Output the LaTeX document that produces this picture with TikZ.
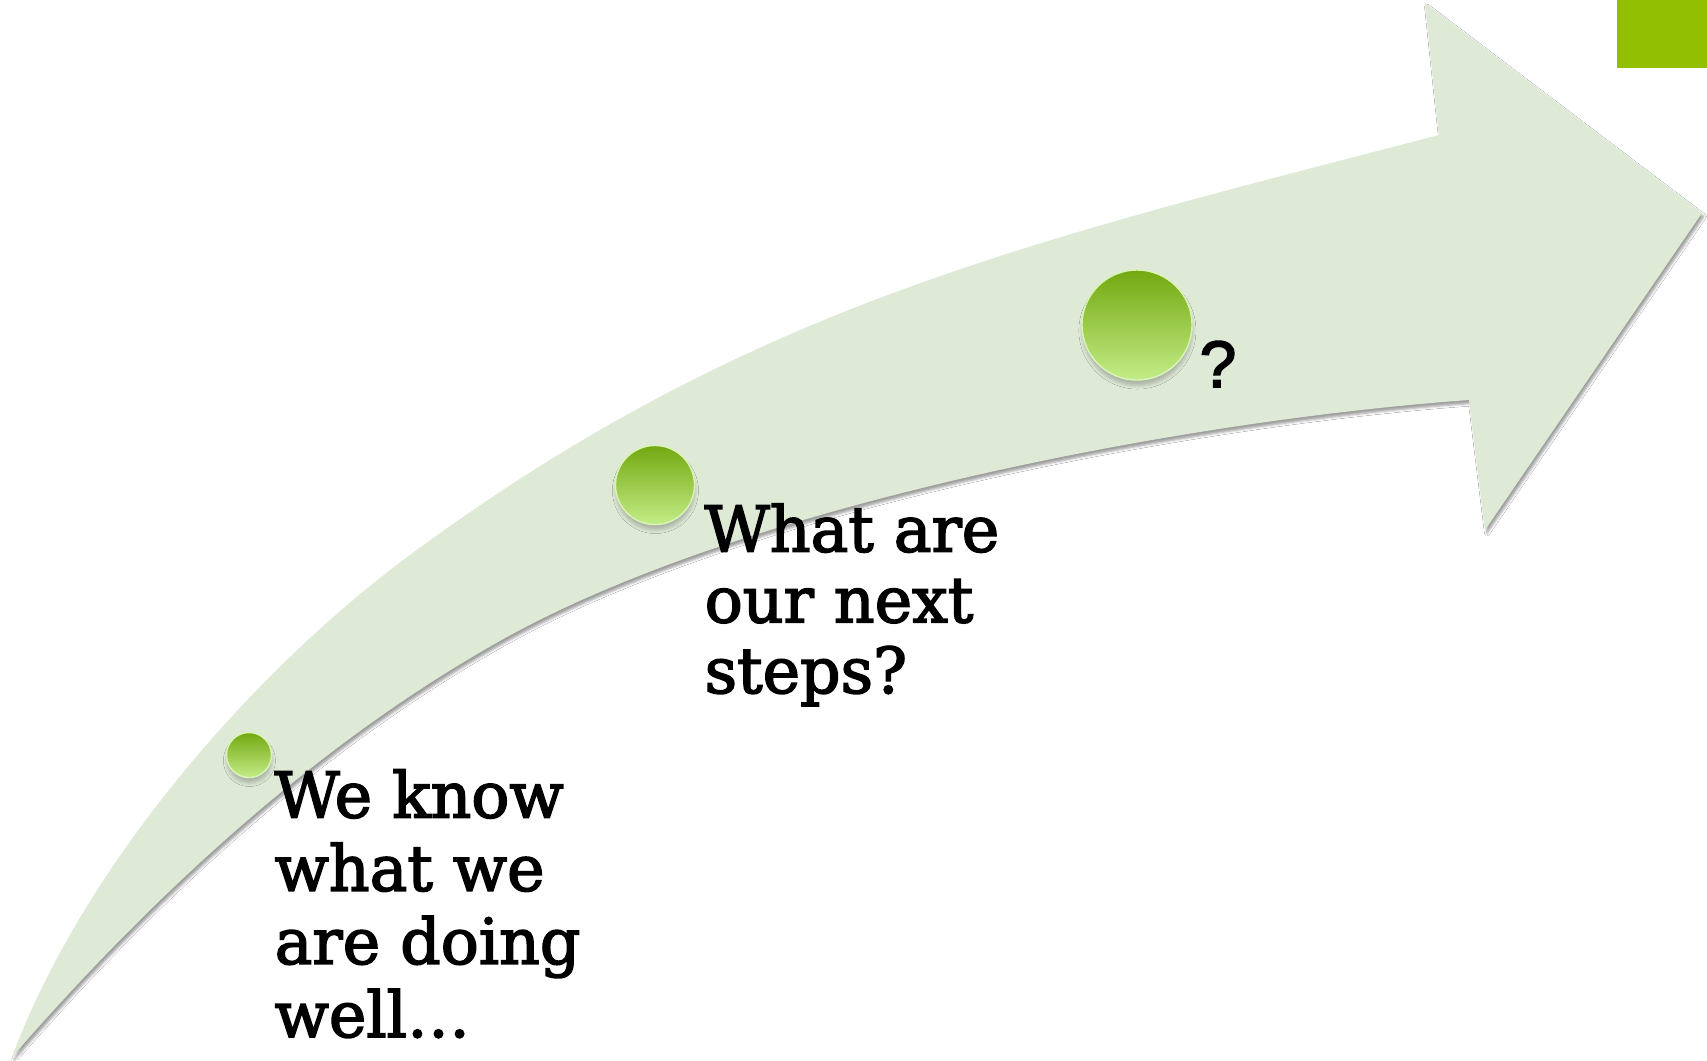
\documentclass[tikz,border=0pt]{standalone}
\usepackage{fontspec}
\setmainfont{DejaVu Serif}[FakeBold=2.5]
\newfontfamily\qfont{Liberation Sans}[FakeBold=2.5]
\usetikzlibrary{shadows.blur}
\definecolor{band}{RGB}{222,233,214}
\definecolor{tab}{RGB}{146,191,0}
\definecolor{balltop}{RGB}{116,168,16}
\definecolor{ballbot}{RGB}{194,237,135}
\begin{document}
\begin{tikzpicture}[x=0.01cm,y=-0.01cm,
  ball/.style={circle, inner sep=0pt, minimum size=#1,
    top color=balltop, bottom color=ballbot,
    draw=white!40!ballbot, line width=0.4pt,
    blur shadow={shadow xshift=0.004cm, shadow yshift=-0.055cm,
      shadow blur radius=0.035cm, shadow opacity=22}},
  blocktext/.style={align=left, anchor=base west, inner sep=0pt}]
  \useasboundingbox (0,0) rectangle (1707,1060);
  \fill[white] (0,0) rectangle (1707,1060);

  % curved arrow band: upper edge, head, lower edge back to the tail
  \path[fill=band, blur shadow={shadow xshift=0.02cm, shadow yshift=-0.035cm,
      shadow blur radius=0.025cm, shadow opacity=38}]
    (12,1057) .. controls (82,869) and (249,674) .. (410,555)
    .. controls (748,305) and (1032,241) .. (1439,135)
    -- (1425,3) -- (1702,213) -- (1485,530) -- (1469,400)
    .. controls (1190,420) and (752,502) .. (507,637)
    .. controls (319,741) and (153,895) .. (12,1057)
    -- cycle;

  % corner tab
  \fill[tab] (1617,0) rectangle (1707,68);

  % milestones
  \node[ball=4.5mm] (b1) at (249,755) {};
  \node[ball=7.9mm] (b2) at (655,485) {};
  \node[ball=11mm] (b3) at (1137,325) {};

  \node[blocktext, font=\fontsize{18}{20.8}\selectfont] (t1) at (274,1037)
    {We know\\what we\\are doing\\well…};
  \node[blocktext, font=\fontsize{18}{20.1}\selectfont] (t2) at (704,693)
    {What are\\our next\\steps?};
  \node[blocktext, font=\qfont\fontsize{18.7}{20.5}\selectfont] (t3) at (1199,387) {?};
\end{tikzpicture}
\end{document}
